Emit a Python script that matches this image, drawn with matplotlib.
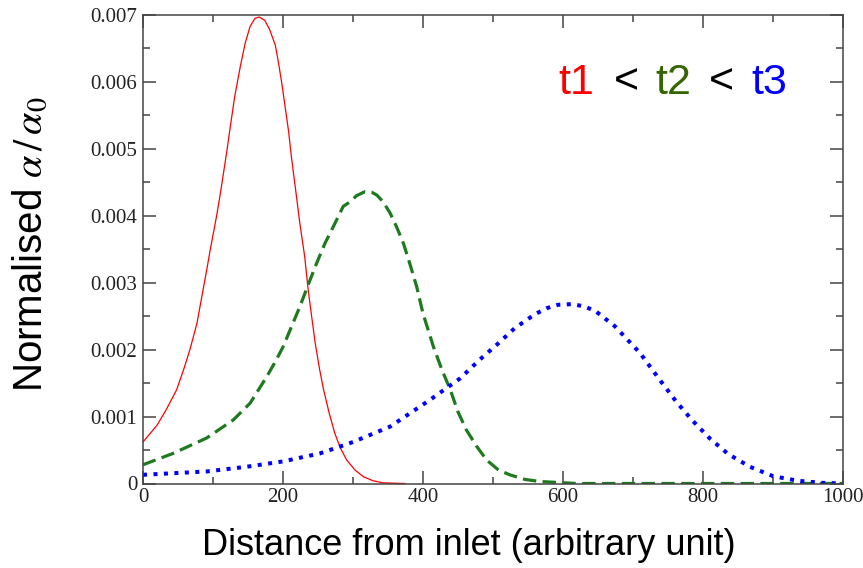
import matplotlib
matplotlib.use("Agg")
import matplotlib.pyplot as plt
from matplotlib.ticker import FixedLocator, FixedFormatter

# values
x_t1 = [0, 20, 33, 48, 58, 67, 77, 84, 91, 96, 105, 110, 120, 124, 131, 134, 139,
        146, 153, 160, 166, 174, 181, 189, 193, 198, 203, 208, 212, 218, 224,
        231, 236, 241, 246, 252, 258, 266, 274, 282, 291, 303, 315, 329, 343, 374]
y_t1 = [0.00062, 0.00087, 0.00110, 0.00140, 0.00170, 0.00200, 0.00239, 0.00279,
        0.00319, 0.00349, 0.00399, 0.00430, 0.00498, 0.00528, 0.00578, 0.00595,
        0.00623, 0.00658, 0.00683, 0.00695, 0.00697, 0.00692, 0.00678, 0.00655,
        0.00632, 0.00600, 0.00563, 0.00526, 0.00488, 0.00439, 0.00389, 0.00339,
        0.00289, 0.00249, 0.00210, 0.00172, 0.00140, 0.00105, 0.00075, 0.00053,
        0.00035, 0.00020, 0.00010, 0.00004, 0.00001, 0.0]

x_t2 = [0, 43, 91, 129, 153, 165, 177, 189, 200, 212, 224, 236, 248, 260, 272,
        286, 296, 305, 317, 327, 334, 343, 353, 362, 372, 381, 391, 400, 415, 427,
        439, 450, 462, 477, 491, 508, 524, 546, 567, 620, 1000]
y_t2 = [0.00028, 0.00045, 0.00068, 0.00095, 0.00120, 0.00140, 0.00160, 0.00182,
        0.00204, 0.00234, 0.00264, 0.00297, 0.00329, 0.00359, 0.00384, 0.00414,
        0.00421, 0.00430, 0.00436, 0.00435, 0.00431, 0.00421, 0.00404, 0.00384,
        0.00359, 0.00329, 0.00294, 0.00254, 0.00204, 0.00170, 0.00140, 0.00107,
        0.00080, 0.00055, 0.00035, 0.00020, 0.00013, 0.00006, 0.00003, 0.0, 0.0]

x_t3 = [0, 91, 148, 200, 253, 300, 353, 410, 453, 481, 505, 531, 560, 577, 593,
        612, 629, 646, 674, 710, 741, 762, 785, 810, 836, 867, 900, 936, 970, 1000]
y_t3 = [0.00013, 0.00018, 0.00025, 0.00033, 0.00045, 0.00062, 0.00085, 0.00125,
        0.00157, 0.00185, 0.00207, 0.00232, 0.00253, 0.00262, 0.00267, 0.00268,
        0.00265, 0.00258, 0.00235, 0.00195, 0.00151, 0.00122, 0.00094, 0.00067,
        0.00044, 0.00025, 0.00011, 0.00004, 0.00001, 0.0]

xticks = [0, 200, 400, 600, 800, 1000]
xtick_labels = ["0", "200", "400", "600", "800", "1000"]
yticks = [0, 0.001, 0.002, 0.003, 0.004, 0.005, 0.006, 0.007]
ytick_labels = ["0", "0.001", "0.002", "0.003", "0.004", "0.005", "0.006", "0.007"]

plt.rcParams["mathtext.fontset"] = "stix"

W, H = 863, 568
fig = plt.figure(figsize=(W / 100, H / 100), dpi=100)
ax = fig.add_axes([143 / W, 1 - 483.5 / H, 700 / W, 468.5 / H])

ax.plot(x_t1, y_t1, color="#ff0000", lw=0.9)
ax.plot(x_t2, y_t2, color="#1e7a1e", lw=2.3, linestyle=(0, (4.2, 2.0)))
ax.plot(x_t3, y_t3, color="#0000ff", lw=2.9, linestyle=(0, (1, 1.6)))

ax.set_xlim(0, 1000)
ax.set_ylim(0, 0.007)

ax.xaxis.set_major_locator(FixedLocator(xticks))
ax.xaxis.set_major_formatter(FixedFormatter(xtick_labels))
ax.xaxis.set_minor_locator(FixedLocator([100, 300, 500, 700, 900]))
ax.yaxis.set_major_locator(FixedLocator(yticks))
ax.yaxis.set_major_formatter(FixedFormatter(ytick_labels))
ax.yaxis.set_minor_locator(FixedLocator([0.0005, 0.0015, 0.0025, 0.0035,
                                         0.0045, 0.0055, 0.0065]))

for s in ax.spines.values():
    s.set_color("#444444")
    s.set_linewidth(1.1)

ax.tick_params(which="both", direction="in", top=True, right=True,
               color="#444444", width=1.1)
ax.tick_params(which="major", length=9.5)
ax.tick_params(which="minor", length=5)
ax.tick_params(axis="x", pad=3)
ax.tick_params(axis="y", pad=4)
for lab in ax.get_xticklabels() + ax.get_yticklabels():
    lab.set_fontfamily("Liberation Serif")
    lab.set_fontsize(15)
    lab.set_color("#222222")

ax.set_xlabel("Distance from inlet (arbitrary unit)", fontsize=26,
              family="Liberation Sans")
ax.xaxis.set_label_coords(0.4657, -0.095)
ax.set_ylabel(r"Normalised $\alpha\,/\,\alpha_0$", fontsize=29,
              family="Liberation Sans")
ax.yaxis.set_label_coords(-0.133, 0.51)

# coloured ordering note
parts = [("t1", "#ff0000", 558), ("<", "#000000", 614), ("t2", "#336600", 655),
         ("<", "#000000", 709), ("t3", "#0000ff", 751)]
for txt, col, px in parts:
    fig.text(px / W, 1 - 93.5 / H, txt, color=col, fontsize=31,
             family="Liberation Sans", ha="left", va="baseline")

fig.savefig("out.png", dpi=100)
